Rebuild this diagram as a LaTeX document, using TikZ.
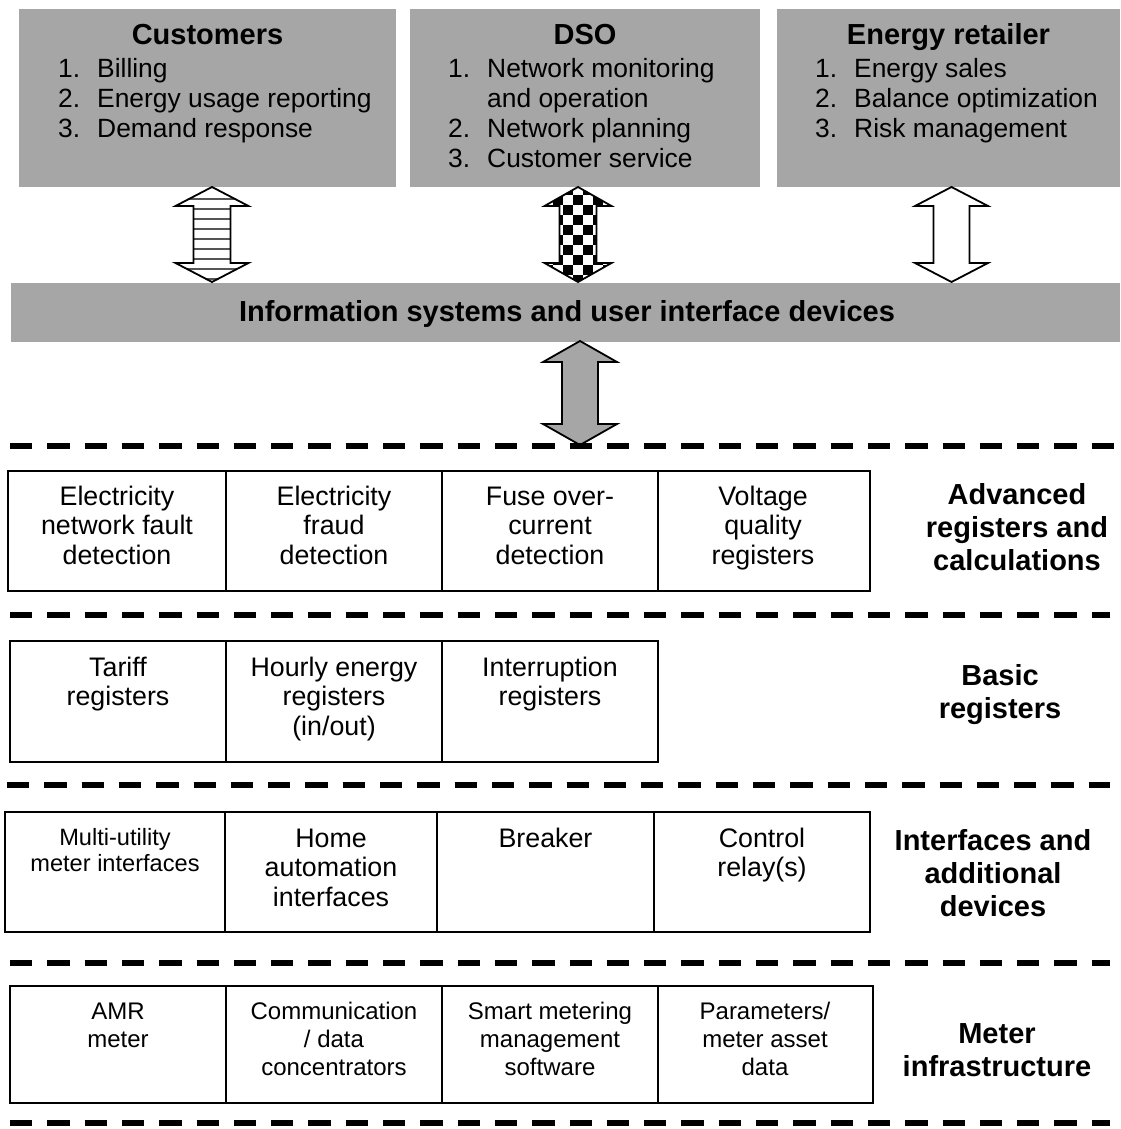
\documentclass[tikz,border=0pt]{standalone}
\usepackage{fontspec}
\setmainfont{Liberation Sans}
\definecolor{boxgray}{RGB}{166,166,166}
\definecolor{stripe}{RGB}{85,85,85}
% lines of text stacked and centred; the node's base is the first line's baseline
\newcommand\stack[1]{\begin{tabular}[t]{@{}c@{}}#1\end{tabular}}
\newcommand\lst[1]{\begin{tabular}[t]{@{}l@{}}#1\end{tabular}}
\newcommand\num[1]{\makebox[39pt][l]{#1}}
% double-headed block arrow: centre x, top y, bottom y, head half-width, shaft half-width, head length
\newcommand\blockarrow[6]{(#1,#2) -- (#1+#4,#2+#6) -- (#1+#5,#2+#6) -- (#1+#5,#3-#6) -- (#1+#4,#3-#6) -- (#1,#3) -- (#1-#4,#3-#6) -- (#1-#5,#3-#6) -- (#1-#5,#2+#6) -- (#1-#4,#2+#6) -- cycle}
\begin{document}
\begin{tikzpicture}[x=1pt,y=-1pt,
  graybox/.style={fill=boxgray, inner sep=0pt, outer sep=0pt, anchor=north west},
  cell/.style={draw=black, line width=1.6pt, inner sep=0pt, outer sep=0pt, anchor=north west},
  head/.style={font=\fontsize{29}{33}\selectfont\bfseries, anchor=base, inner sep=0pt},
  item/.style={font=\fontsize{26.4}{29.8}\selectfont, anchor=base west, inner sep=0pt},
  celltxt/.style={font=\fontsize{26.8}{29.7}\selectfont, anchor=base, inner sep=0pt},
  smalltxt/.style={font=\fontsize{23.6}{26.5}\selectfont, anchor=base, inner sep=0pt},
  metertxt/.style={font=\fontsize{24}{28}\selectfont, anchor=base, inner sep=0pt},
  side/.style={font=\fontsize{29}{33}\selectfont\bfseries, anchor=base, inner sep=0pt},
  sepline/.style={line width=5.5pt, dash pattern=on 22.3pt off 15pt},
  arrowline/.style={draw=black, line width=1.8pt, line join=miter}
]
\fill[white] (0,0) rectangle (1120,1129);
\useasboundingbox (0,0) rectangle (1120,1129);

% ---- actors ----
\node[graybox, minimum width=377pt, minimum height=178pt] (cust) at (19,9) {};
\node[graybox, minimum width=350pt, minimum height=178pt] (dso) at (410,9) {};
\node[graybox, minimum width=343pt, minimum height=178pt] (ret) at (777,9) {};

\node[head] (cust-h) at (207.5,45) {Customers};
\node[head] (dso-h) at (585,45) {DSO};
\node[head] (ret-h) at (948.5,45) {Energy retailer};

\node[item] (cust-l) at (58,78) {\lst{\num{1.}Billing\\ \num{2.}Energy usage reporting\\ \num{3.}Demand response}};
\node[item] (dso-l) at (448,78) {\lst{\num{1.}Network monitoring\\ \hspace*{39pt}and operation\\ \num{2.}Network planning\\ \num{3.}Customer service}};
\node[item] (ret-l) at (815,78) {\lst{\num{1.}Energy sales\\ \num{2.}Balance optimization\\ \num{3.}Risk management}};

% ---- information systems bar ----
\node[graybox, minimum width=1109pt, minimum height=59pt] (bar) at (11,283) {};
\node[head] (bar-t) at (567,321) {Information systems and user interface devices};

% ---- arrows between actors and information systems ----
% striped
\begin{scope}
  \clip \blockarrow{212}{187}{282}{36.5}{18.5}{19};
  \foreach \k in {0,...,8}
    \draw[stripe, line width=2.6pt] (170,199+\k*10) -- (255,199+\k*10);
\end{scope}
\draw[arrowline] \blockarrow{212}{187}{282}{36.5}{18.5}{19};
% chequered
\begin{scope}
  \clip \blockarrow{578}{187}{282}{33.5}{18.5}{19};
  \fill[white] (540,180) rectangle (620,290);
  \foreach \i in {0,...,7}
    \foreach \j in {0,...,10} {
      \pgfmathtruncatemacro\parity{mod(\i+\j,2)}
      \ifnum\parity=0 \fill[black] (543+\i*10,185+\j*10) rectangle ++(10,10); \fi
    }
\end{scope}
\draw[arrowline] \blockarrow{578}{187}{282}{33.5}{18.5}{19};
% plain
\draw[arrowline, fill=white] \blockarrow{951.5}{187}{282}{36.5}{18}{19};
% grey arrow down to the layers
\draw[arrowline, fill=boxgray] \blockarrow{580}{341}{445}{37}{18}{21};

% ---- layer separators ----
\draw[sepline] (10,446) -- (1120,446);
\draw[sepline] (10,615) -- (1110,615);
\draw[sepline] (7,785) -- (1110,785);
\draw[sepline] (10,963) -- (1110,963);
\draw[sepline] (10,1123) -- (1110,1123);

% ---- advanced registers and calculations ----
\node[cell, minimum width=218pt, minimum height=120pt] (r1a) at (8,471) {};
\node[cell, minimum width=216pt, minimum height=120pt] (r1b) at (226,471) {};
\node[cell, minimum width=216pt, minimum height=120pt] (r1c) at (442,471) {};
\node[cell, minimum width=212pt, minimum height=120pt] (r1d) at (658,471) {};
\node[celltxt] (r1a-t) at (117,505) {\stack{Electricity\\ network fault\\ detection}};
\node[celltxt] (r1b-t) at (334,505) {\stack{Electricity\\ fraud\\ detection}};
\node[celltxt] (r1c-t) at (550,505) {\stack{Fuse over-\\ current\\ detection}};
\node[celltxt] (r1d-t) at (763,505) {\stack{Voltage\\ quality\\ registers}};
\node[side] (r1-s) at (1017,504) {\stack{Advanced\\ registers and\\ calculations}};

% ---- basic registers ----
\node[cell, minimum width=216pt, minimum height=121pt] (r2a) at (10,641) {};
\node[cell, minimum width=216pt, minimum height=121pt] (r2b) at (226,641) {};
\node[cell, minimum width=216pt, minimum height=121pt] (r2c) at (442,641) {};
\node[celltxt] (r2a-t) at (118,676) {\stack{Tariff\\ registers}};
\node[celltxt] (r2b-t) at (334,676) {\stack{Hourly energy\\ registers\\ (in/out)}};
\node[celltxt] (r2c-t) at (550,676) {\stack{Interruption\\ registers}};
\node[side] (r2-s) at (1000,685) {\stack{Basic\\ registers}};

% ---- interfaces and additional devices ----
\node[cell, minimum width=220pt, minimum height=120pt] (r3a) at (5,812) {};
\node[cell, minimum width=212pt, minimum height=120pt] (r3b) at (225,812) {};
\node[cell, minimum width=217pt, minimum height=120pt] (r3c) at (437,812) {};
\node[cell, minimum width=216pt, minimum height=120pt] (r3d) at (654,812) {};
\node[smalltxt] (r3a-t) at (115,845) {\stack{Multi-utility\\ meter interfaces}};
\node[celltxt] (r3b-t) at (331,847) {\stack{Home\\ automation\\ interfaces}};
\node[celltxt] (r3c-t) at (545.5,847) {Breaker};
\node[celltxt] (r3d-t) at (762,847) {\stack{Control\\ relay(s)}};
\node[side] (r3-s) at (993,850) {\stack{Interfaces and\\ additional\\ devices}};

% ---- meter infrastructure ----
\node[cell, minimum width=216pt, minimum height=117pt] (r4a) at (10,986) {};
\node[cell, minimum width=216pt, minimum height=117pt] (r4b) at (226,986) {};
\node[cell, minimum width=216pt, minimum height=117pt] (r4c) at (442,986) {};
\node[cell, minimum width=215pt, minimum height=117pt] (r4d) at (658,986) {};
\node[metertxt] (r4a-t) at (118,1019) {\stack{AMR\\ meter}};
\node[metertxt] (r4b-t) at (334,1019) {\stack{Communication\\ / data\\ concentrators}};
\node[metertxt] (r4c-t) at (550,1019) {\stack{Smart metering\\ management\\ software}};
\node[metertxt] (r4d-t) at (765,1019) {\stack{Parameters/\\ meter asset\\ data}};
\node[side] (r4-s) at (997,1043) {\stack{Meter\\ infrastructure}};
\end{tikzpicture}
\end{document}
